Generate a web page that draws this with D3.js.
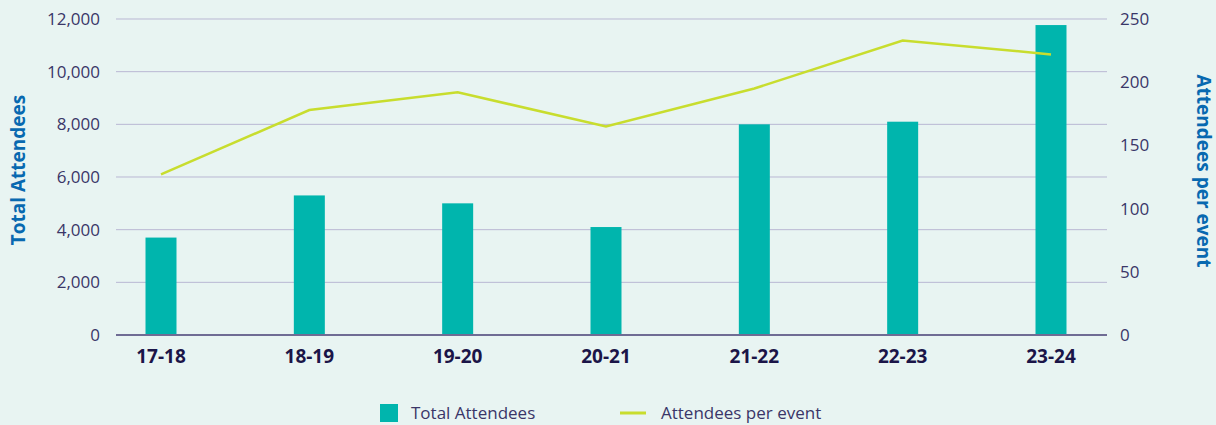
<!DOCTYPE html>
<html lang="en">
<head>
<meta charset="UTF-8">
<title>Attendees</title>
<style>
  body { margin: 0; background: #e8f4f2; }
  svg { display: block; font-family: "Open Sans", "Noto Sans", sans-serif; }
</style>
</head>
<body>
<svg width="1216" height="425"></svg>
<script src="https://d3js.org/d3.v7.min.js"></script>
<script>
  // data
  const years = ["17-18", "18-19", "19-20", "20-21", "21-22", "22-23", "23-24"];
  const totalAttendees = [3700, 5300, 5000, 4100, 8000, 8100, 11770];
  const perEvent = [127, 178, 192, 165, 195, 233, 222];
  const leftTicks = [0, 2000, 4000, 6000, 8000, 10000, 12000];
  const rightTicks = [0, 50, 100, 150, 200, 250];

  const svg = d3.select("svg");
  const plotLeft = 116, plotRight = 1107, plotTop = 19, plotBottom = 335;

  const x = d3.scalePoint().domain(years).range([161, 1051]);
  const yL = d3.scaleLinear().domain([0, 12000]).range([plotBottom, plotTop]);
  const yR = d3.scaleLinear().domain([0, 250]).range([plotBottom, plotTop]);

  // gridlines
  svg.append("g").selectAll("line")
    .data(leftTicks.slice(1))
    .join("line")
    .attr("x1", plotLeft).attr("x2", plotRight)
    .attr("y1", d => yL(d)).attr("y2", d => yL(d))
    .attr("stroke", "#b9b7d3").attr("stroke-width", 1);

  // left tick labels
  svg.append("g").selectAll("text")
    .data(leftTicks)
    .join("text")
    .attr("x", 100).attr("y", d => yL(d))
    .attr("dy", "0.35em")
    .attr("text-anchor", "end")
    .attr("font-size", 17)
    .attr("fill", "#3a3668")
    .text(d => d3.format(",")(d));

  // right tick labels
  svg.append("g").selectAll("text")
    .data(rightTicks)
    .join("text")
    .attr("x", 1120).attr("y", d => yR(d))
    .attr("dy", "0.35em")
    .attr("font-size", 17)
    .attr("fill", "#3a3668")
    .text(d => d);

  // bars
  const bw = 31;
  svg.append("g").selectAll("rect")
    .data(totalAttendees)
    .join("rect")
    .attr("x", (d, i) => x(years[i]) - bw / 2)
    .attr("y", d => yL(d))
    .attr("width", bw)
    .attr("height", d => plotBottom - yL(d))
    .attr("fill", "#00b5ad");

  // baseline
  svg.append("line")
    .attr("x1", plotLeft).attr("x2", plotRight)
    .attr("y1", plotBottom).attr("y2", plotBottom)
    .attr("stroke", "#6f6c94").attr("stroke-width", 2);

  // line series
  const line = d3.line()
    .x((d, i) => x(years[i]))
    .y(d => yR(d));
  svg.append("path")
    .datum(perEvent)
    .attr("d", line)
    .attr("fill", "none")
    .attr("stroke", "#c8dd2e")
    .attr("stroke-width", 2.5);

  // x labels
  svg.append("g").selectAll("text")
    .data(years)
    .join("text")
    .attr("x", d => x(d)).attr("y", 363)
    .attr("text-anchor", "middle")
    .attr("font-size", 19)
    .attr("font-weight", "bold")
    .attr("fill", "#1b1548")
    .text(d => d);

  // axis titles
  svg.append("text")
    .attr("transform", "translate(25,170) rotate(-90)")
    .attr("text-anchor", "middle")
    .attr("font-size", 19)
    .attr("font-weight", "bold")
    .attr("fill", "#0869b0")
    .text("Total Attendees");

  svg.append("text")
    .attr("transform", "translate(1197,171) rotate(90)")
    .attr("text-anchor", "middle")
    .attr("font-size", 19)
    .attr("font-weight", "bold")
    .attr("fill", "#0869b0")
    .text("Attendees per event");

  // legend
  const lg = svg.append("g");
  lg.append("rect").attr("x", 380).attr("y", 404).attr("width", 18).attr("height", 18).attr("fill", "#00b5ad");
  lg.append("text").attr("x", 411).attr("y", 419).attr("font-size", 17).attr("fill", "#3a3668").text("Total Attendees");
  lg.append("line").attr("x1", 620).attr("x2", 646).attr("y1", 413).attr("y2", 413)
    .attr("stroke", "#c8dd2e").attr("stroke-width", 3);
  lg.append("text").attr("x", 661).attr("y", 419).attr("font-size", 17).attr("fill", "#3a3668").text("Attendees per event");
</script>
</body>
</html>
